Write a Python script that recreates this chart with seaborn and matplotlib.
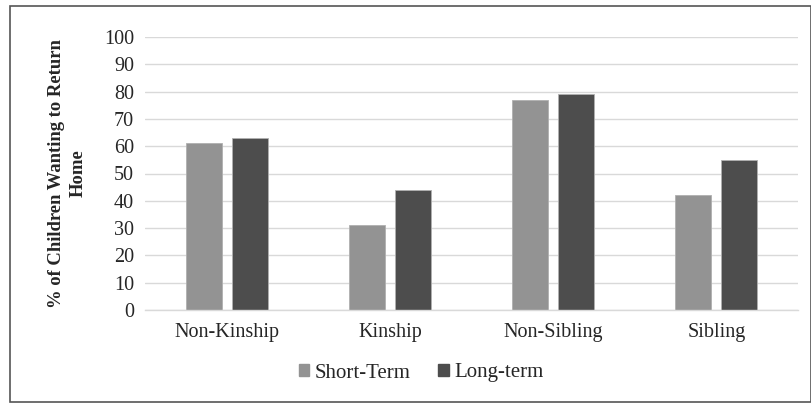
import matplotlib
matplotlib.use("Agg")
import matplotlib.pyplot as plt
import seaborn as sns
import pandas as pd
from matplotlib.patches import Rectangle

categories = ["Non-Kinship", "Kinship", "Non-Sibling", "Sibling"]
short_term = [61, 31, 77, 42]
long_term = [63, 44, 79, 55]
series_names = ["Short-Term", "Long-term"]
yticks = list(range(0, 101, 10))

df = pd.DataFrame({
    "cat": categories * 2,
    "val": short_term + long_term,
    "series": [series_names[0]] * 4 + [series_names[1]] * 4,
})

sns.set_style("white")
plt.rcParams["font.family"] = ["Liberation Serif", "DejaVu Serif"]

fig = plt.figure(figsize=(8.12, 4.05), dpi=100)
ax = fig.add_axes([145/812, 1 - 310/405, (798-145)/812, (310-37)/405])

sns.barplot(data=df, x="cat", y="val", hue="series", order=categories,
            hue_order=series_names, palette=["#939393", "#4d4d4d"],
            width=0.564, gap=0.216, ax=ax, legend=False,
            edgecolor="#b0b0b0", linewidth=0.6)

ax.set_ylim(0, 100)
ax.set_xlim(-0.5, 3.5)
ax.set_yticks(yticks)
ax.set_yticklabels([str(t) for t in yticks], fontsize=14.5, color="#262626")
ax.tick_params(axis="x", labelsize=14.5, colors="#262626", length=0, pad=9)
ax.tick_params(axis="y", length=0, pad=8)
ax.yaxis.grid(True, color="#d9d9d9", linewidth=1)
ax.set_axisbelow(True)
for s in ["top", "right", "left"]:
    ax.spines[s].set_visible(False)
ax.spines["bottom"].set_color("#d9d9d9")
ax.spines["bottom"].set_linewidth(1)
ax.set_xlabel("")
ax.set_ylabel("% of Children Wanting to Return\nHome", fontsize=13.4,
              fontweight="bold", color="#262626", linespacing=1.35)
ax.yaxis.set_label_coords(-0.09, 0.5)

handles = [Rectangle((0, 0), 1, 1, color="#939393"),
           Rectangle((0, 0), 1, 1, color="#4d4d4d")]
fig.legend(handles, series_names, loc="center", bbox_to_anchor=(421/812, 1 - 373/405),
           ncol=2, frameon=False, fontsize=15, handlelength=0.5, handleheight=0.5,
           handletextpad=0.25, columnspacing=1.35, labelcolor="#262626")

border = Rectangle((10/812, 1 - 402/405), (811-10)/812, (402-6)/405,
                   transform=fig.transFigure, fill=False, edgecolor="#555555",
                   linewidth=1.2)
fig.patches.append(border)

fig.savefig("out.png", dpi=100)
